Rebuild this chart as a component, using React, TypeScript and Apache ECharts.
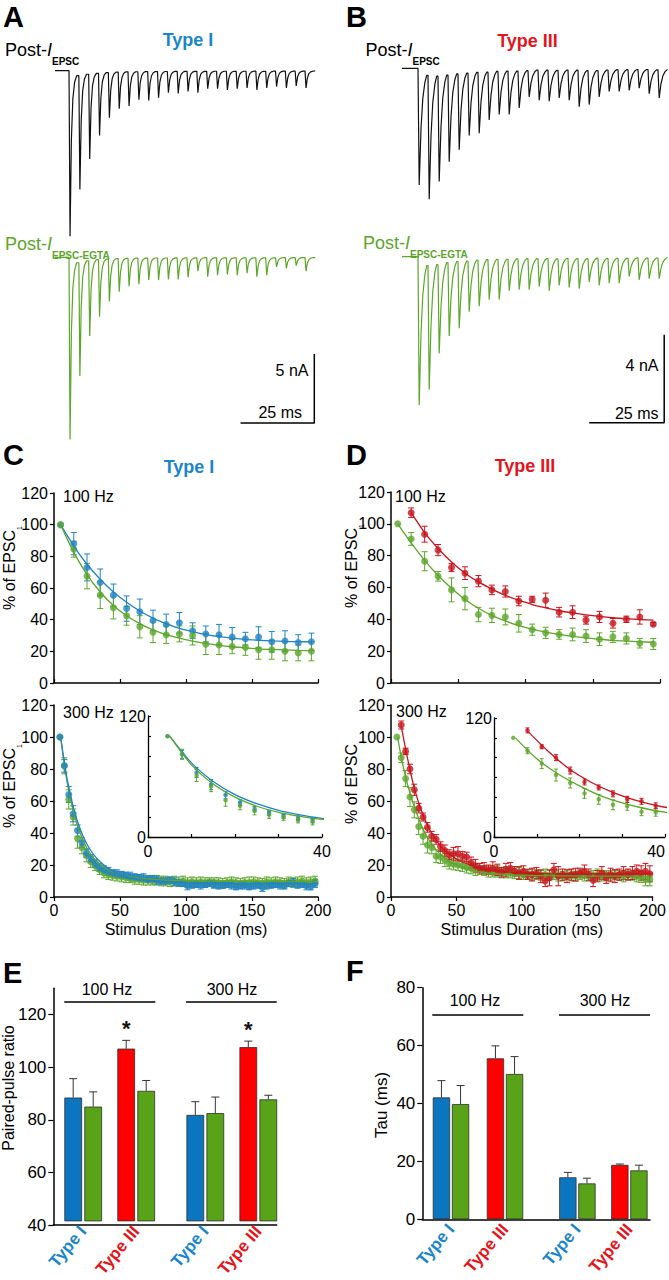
import React, { useEffect, useRef } from 'react';
import * as echarts from 'echarts';

const FONT = 'Liberation Sans, Arial, Helvetica, sans-serif';
const BLACK = '#111111';
const BLUE = '#2183c6';
const BLUE_BAR = '#0b76bf';
const BLUE_TXT = '#1a86c9';
const GREEN = '#5ca62b';
const GREEN_BAR = '#58a318';
const RED_DOT = '#c8141d';
const RED_BAR = '#ff0000';
const RED_TXT = '#e4141c';

// ---------- A / B : EPSC trains (trough amplitude of each EPSC, nA) ----------
const A_CTRL_DEPTH = [12.0, 8.6, 6.4, 4.7, 3.4, 2.75, 2.55, 2.1, 2.15, 1.95, 1.6, 1.65, 1.5, 1.6, 1.3, 1.3, 1.4, 1.3, 1.25, 1.4, 1.25, 1.15, 1.25, 1.1, 1.25];
const A_EGTA_DEPTH = [13.2, 8.6, 5.7, 4.3, 3.2, 2.5, 2.1, 1.95, 1.65, 1.65, 1.6, 1.6, 1.45, 1.0, 1.4, 1.3, 1.25, 1.3, 1.15, 1.4, 1.3, 0.7, 0.8, 0.6, 1.0];
const B_CTRL_DEPTH = [5.3, 5.95, 5.15, 4.25, 3.7, 3.05, 2.95, 2.35, 2.1, 2.1, 1.8, 1.3, 1.45, 1.5, 1.35, 1.45, 1.75, 1.65, 1.3, 1.05, 1.05, 1.0, 0.9, 1.15, 1.35];
const B_EGTA_DEPTH = [6.75, 6.05, 4.4, 3.6, 3.25, 2.5, 2.25, 1.95, 1.95, 1.55, 1.5, 1.5, 1.35, 1.55, 1.3, 1.4, 1.45, 1.15, 1.3, 1.2, 1.2, 0.9, 1.05, 1.0, 1.0];
const TRAIN_ISI = 10 / 3; // ms (300 Hz)
const A_ONSET = 4.75;
const B_ONSET = 5.33;
const A_END = 88.2;
const B_END = 88.5;
// EPSC time course (ms after stimulus, fraction of peak)
const KIN_I = { t: [0.35, 0.8, 1.3, 1.9, 2.6], f: [1, 0.42, 0.17, 0.07, 0.03] };
const KIN_III = { t: [0.4, 1.0, 1.6, 2.3, 2.9], f: [1, 0.52, 0.26, 0.12, 0.06] };
// scale bars: [time length ms, amplitude nA, corner time, corner amplitude]
const SCALE_A = [25, 5, 87.9, -12];
const SCALE_B = [25, 4, 87.4, -7.55];

// ---------- C / D : % of EPSC1 ----------
const T100_FIRST = 5;
const T100_ISI = 10;
const T300_FIRST = 4.5;
const T300_ISI = 10 / 3;

const C100_CTRL = [100, 88, 73, 63.5, 55.5, 47, 45, 39.5, 37, 38, 33, 31, 30.5, 29, 28, 29, 26, 26.5, 25.5, 26];
const C100_CTRL_SE = [0, 7, 8.5, 8.5, 7, 8, 8, 6.5, 6.5, 6.5, 5, 5, 6.5, 6, 4, 6.5, 6.5, 6.5, 5, 5.5];
const C100_EGTA = [100, 84.5, 67.5, 55.5, 47.5, 42.5, 35.5, 32, 30.5, 31, 30, 24.5, 24, 23, 22.5, 21, 21, 20, 19, 20];
const C100_EGTA_SE = [0, 5, 8, 8.5, 7, 6, 7, 6.5, 5.5, 5, 6, 6.5, 6, 4.5, 5, 6, 6, 6, 5, 6];
const C100_CTRL_FIT = [100, 86.5, 75, 65.5, 57.5, 51, 45.5, 41, 37.5, 34.5, 32.5, 30.5, 29.3, 28.3, 27.5, 27, 26.6, 26.3, 26.1, 26];
const C100_EGTA_FIT = [100, 82.5, 68.5, 57.5, 49, 42.5, 37.5, 33.5, 30.5, 28.3, 26.5, 25, 23.8, 22.9, 22.2, 21.6, 21.2, 20.9, 20.6, 20.4];

const D100_CTRL = [null, 107, 93.5, 83.5, 72.5, 69, 64, 58.5, 57.5, 51.5, 52.5, 52, 44.5, 44.5, 39.5, 41.5, 37.5, 40, 41.5, 37];
const D100_CTRL_SE = [0, 3, 5, 3.5, 2.5, 4, 3.5, 3, 3.5, 3, 2, 4.5, 3, 4, 2.5, 3.5, 3, 2, 4.5, 1];
const D100_EGTA = [100, 90.5, 76.5, 67, 58.5, 53, 43, 42.5, 41.5, 37.5, 33.5, 31.5, 30.5, 30.5, 29.5, 27.5, 29, 28, 25, 24.5];
const D100_EGTA_SE = [0, 4, 6, 3, 7.5, 7, 4.5, 4.5, 5, 5.5, 3.5, 3.5, 3, 4, 4, 4, 3.5, 3.5, 3, 3.5];
const D100_CTRL_FIT = [null, 107, 94.5, 84.5, 76, 69, 63.5, 59, 55, 52, 49.3, 47.2, 45.4, 44, 42.8, 41.8, 41, 40.4, 39.9, 39.5];
const D100_EGTA_FIT = [100, 88, 77, 67.5, 59.5, 52.5, 47, 42.5, 39, 36, 33.8, 32, 30.5, 29.3, 28.3, 27.5, 26.8, 26.3, 25.9, 25.6];

const C300_CTRL = [
  100, 82, 64, 52, 41.5, 34, 27.5, 24, 21, 18.5,
  17, 16, 15, 14.5, 14, 13.5, 13, 12.5, 12, 12,
  11, 11.5, 10.5, 10, 10, 10.5, 9.5, 9, 8.5, 7,
  7.5, 8, 7.5, 8, 8.5, 8, 7, 7.5, 8, 7.5,
  6.5, 7, 7.5, 6.5, 7, 7.5, 6, 7, 7.5, 8,
  7.5, 7, 8.5, 9, 7.5, 8, 7, 6.5, 8.5];
const C300_CTRL_SE = [
  0, 4, 5, 5, 3.5, 3, 2.5, 2.5, 2.5, 2.5,
  2.5, 2.5, 2, 2.5, 2, 2, 2.5, 2, 2, 2.5,
  2, 2, 2.5, 2, 2, 2, 2.5, 2, 2, 2.5,
  2, 2, 2.5, 2, 2, 2.5, 2, 2, 2, 2.5,
  2, 2, 2.5, 2, 2, 2, 2.5, 2, 2, 2,
  2.5, 2, 2, 2.5, 2, 2, 2.5, 2, 2.5];
const C300_EGTA = [
  100, 82, 61, 50, 36.5, 31, 26, 22, 19.5, 17,
  15, 14, 13.5, 13, 12.5, 12, 11.5, 11, 11, 10.5,
  10.5, 10, 10.5, 10, 10, 9.5, 10, 9.5, 10, 9,
  9.5, 9, 9.5, 9, 9.5, 9, 9, 8.5, 9, 9.5,
  9, 8.5, 9, 9, 9.5, 9, 8.5, 9.5, 9, 9.5,
  9, 8.5, 9.5, 9, 9.5, 10, 9, 9.5, 10];
const C300_EGTA_SE = [
  0, 5, 6, 5, 6, 4, 4, 3.5, 3, 3,
  3, 3, 3, 3, 3, 3, 2.5, 3, 3, 3,
  3, 2.5, 3, 3, 3, 3, 3, 3, 3, 3,
  3, 3, 3, 3, 2.5, 3, 3, 3, 3, 3,
  3, 3, 3, 3.5, 3, 3, 3, 3, 3, 3,
  3, 3, 3, 3, 3, 3, 3, 3, 3];
const FIT300_T = [5, 10, 15, 20, 25, 30, 35, 40, 45, 50, 55, 60, 70, 80, 90, 100, 110, 120, 130, 140, 150, 160, 170, 180, 190, 200];
const C300_CTRL_FIT = [100, 73.5, 55, 42, 33, 26.5, 22, 18.5, 16, 14, 12.8, 11.8, 10.5, 9.8, 9.3, 9, 8.8, 8.7, 8.6, 8.5, 8.5, 8.45, 8.4, 8.4, 8.4, 8.4];
const C300_EGTA_FIT = [100, 71.5, 52.5, 39.5, 30.5, 24.5, 20.5, 17.5, 15.5, 14, 13, 12.3, 11.3, 10.8, 10.4, 10.2, 10, 9.9, 9.85, 9.8, 9.8, 9.75, 9.7, 9.7, 9.7, 9.7];

const D300_CTRL = [
  null, 107.5, 91, 80, 67, 55.5, 50, 43.5, 38, 36,
  31.5, 29, 26.5, 27, 27, 25.5, 25, 21.5, 19.5, 18,
  18, 17, 18, 17, 15.5, 17, 18, 16, 15, 16,
  14, 14, 15, 13, 10, 12, 17, 13, 14, 13,
  14, 14, 15, 16, 14, 10.5, 13, 15, 12, 14,
  13, 14, 15, 14, 15, 16, 15, 16, 14.5];
const D300_CTRL_SE = [
  0, 2.5, 2, 3, 3.5, 3, 2.5, 3, 3, 3,
  3, 3.5, 3, 4, 4.5, 3, 3, 3.5, 4, 3,
  3.5, 3, 4, 3.5, 3, 4, 3.5, 3, 4, 3.5,
  3, 4, 3.5, 4, 3.5, 5, 4, 6, 3.5, 4,
  3.5, 4, 3, 4, 3.5, 4, 3.5, 4, 3.5, 4,
  4, 3.5, 4, 3.5, 4, 4, 4.5, 5, 5];
const D300_EGTA = [
  100, 87, 74, 62.5, 54.5, 44, 38, 32.5, 31, 25.5,
  25, 23, 21, 20.5, 20, 19.5, 18.5, 18, 17, 17.5,
  16.5, 16, 15.5, 16, 15, 15.5, 15, 14.5, 15, 14,
  14.5, 14, 14, 13.5, 14, 13.5, 14, 13.5, 13, 14,
  13.5, 13, 14, 13.5, 13, 13.5, 14, 13, 13.5, 13,
  14, 13.5, 13, 14, 13.5, 13, 12.5, 11, 11];
const D300_EGTA_SE = [
  0, 3, 5, 6, 5, 5, 5, 5, 4, 4,
  4, 4, 3.5, 3.5, 3.5, 3.5, 3.5, 3.5, 3.5, 3.5,
  3, 3.5, 3, 3.5, 3, 3.5, 3, 3, 3.5, 3,
  3, 3.5, 3, 3, 3.5, 3, 3, 3.5, 3, 3,
  3.5, 3, 3, 3.5, 3, 3, 3.5, 3, 3, 3.5,
  3, 3, 3.5, 3, 3, 3.5, 3.5, 4, 4];
const D300_EGTA_FIT = [100, 79, 63.5, 51.5, 41.5, 34.5, 29, 25, 22, 20, 18.3, 17, 15.5, 14.5, 14, 13.6, 13.4, 13.3, 13.2, 13.2, 13.1, 13.1, 13, 13, 13, 13];
const D300_CTRL_FIT_T = [7.8, 12.8, 17.8, 22.8, 27.8, 32.8, 37.8, 42.8, 47.8, 52.8, 57.8, 70, 80, 90, 100, 110, 120, 130, 140, 150, 160, 170, 180, 190, 200];
const D300_CTRL_FIT = [107, 86, 68, 55, 45, 37.5, 32, 28, 25, 22.5, 20.8, 17.8, 16.4, 15.6, 15.1, 14.8, 14.6, 14.5, 14.5, 14.4, 14.4, 14.4, 14.4, 14.4, 14.4];

// ---------- E / F : bars ----------
const CELL_TYPES = ['Type I', 'Type III'];
const E100_CTRL = [87.8, 106.7];
const E100_CTRL_SE = [7.3, 3.2];
const E100_EGTA = [84.3, 90.4];
const E100_EGTA_SE = [5.7, 4.0];
const E300_CTRL = [81.1, 107.3];
const E300_CTRL_SE = [5.1, 2.3];
const E300_EGTA = [81.8, 87.1];
const E300_EGTA_SE = [6.2, 1.6];
const E_SIGNIF = [0, 1];
const F100_CTRL = [42.1, 55.6];
const F100_CTRL_SE = [5.8, 4.3];
const F100_EGTA = [39.8, 50.2];
const F100_EGTA_SE = [6.4, 6.0];
const F300_CTRL = [14.5, 18.8];
const F300_CTRL_SE = [1.7, 0.3];
const F300_EGTA = [12.4, 16.9];
const F300_EGTA_SE = [1.8, 1.8];

// ---------- layout ----------
const GRIDS = [
  { left: 55, top: 56.9, width: 265.5, height: 193.2 }, // 0 A ctrl
  { left: 55, top: 243.5, width: 265.5, height: 207 }, // 1 A egta
  { left: 402, top: 57.3, width: 267, height: 165 }, // 2 B ctrl
  { left: 402, top: 245.7, width: 267, height: 187 }, // 3 B egta
  { left: 54, top: 493, width: 264, height: 190 }, // 4 C 100
  { left: 54, top: 705, width: 264, height: 192 }, // 5 C 300
  { left: 148, top: 716, width: 174, height: 121 }, // 6 C inset
  { left: 391, top: 492, width: 269, height: 191 }, // 7 D 100
  { left: 391, top: 705, width: 269, height: 192 }, // 8 D 300
  { left: 494, top: 718, width: 171, height: 119 }, // 9 D inset
  { left: 53.3, top: 988.3, width: 223.4, height: 236.7 }, // 10 E axes
  { left: 56.7, top: 988.3, width: 106, height: 236.7 }, // 11 E 100
  { left: 178.8, top: 988.3, width: 106, height: 236.7 }, // 12 E 300
  { left: 422.3, top: 987.7, width: 227.7, height: 231.6 }, // 13 F axes
  { left: 424, top: 987.7, width: 108, height: 231.6 }, // 14 F 100
  { left: 551.4, top: 987.7, width: 104, height: 231.6 }, // 15 F 300
];

function buildTrace(depths: number[], onset: number, isi: number, kin: { t: number[]; f: number[] }, tEnd: number) {
  const pts: number[][] = [[0, 0], [onset, 0]];
  let res = 0;
  depths.forEach((d, i) => {
    const ts = onset + i * isi;
    if (i > 0) pts.push([ts, -res]);
    kin.t.forEach((dt, k) => pts.push([ts + dt, -d * kin.f[k]]));
    res = d * kin.f[kin.f.length - 1];
  });
  pts.push([tEnd, -res * 0.6]);
  return pts;
}

const times = (n: number, first: number, isi: number) => Array.from({ length: n }, (_, i) => first + i * isi);

const errRender = (color: string, cap: number, lw = 1) => (_p: any, api: any) => {
  const x = api.value(0), y = api.value(1), e = api.value(2);
  if (!e || y == null || isNaN(y)) return null;
  const a = api.coord([x, y + e]);
  const b = api.coord([x, y - e]);
  const st = { stroke: color, lineWidth: lw };
  return {
    type: 'group',
    children: [
      { type: 'line', shape: { x1: a[0], y1: a[1], x2: b[0], y2: b[1] }, style: st },
      { type: 'line', shape: { x1: a[0] - cap, y1: a[1], x2: a[0] + cap, y2: a[1] }, style: st },
      { type: 'line', shape: { x1: b[0] - cap, y1: b[1], x2: b[0] + cap, y2: b[1] }, style: st },
    ],
  };
};

function pointSeries(g: number, xs: number[], ys: (number | null)[], es: number[], color: string, size: number, cap: number, maxX = Infinity) {
  const rows = xs.map((x, i) => [x, ys[i], es[i]]).filter((r) => r[1] != null && (r[0] as number) <= maxX);
  return [
    {
      type: 'custom', xAxisIndex: g, yAxisIndex: g, clip: true, silent: true,
      renderItem: errRender(color, cap), data: rows.map((r) => [r[0], r[1], r[2]]),
    },
    {
      type: 'scatter', xAxisIndex: g, yAxisIndex: g, silent: true, symbol: 'circle', symbolSize: size,
      itemStyle: { color }, data: rows.map((r) => [r[0], r[1]]),
    },
  ];
}

function fitSeries(g: number, ts: number[], vs: (number | null)[], color: string) {
  return {
    type: 'line', xAxisIndex: g, yAxisIndex: g, silent: true, showSymbol: false, symbol: 'none',
    smooth: 0.3, clip: true,
    lineStyle: { color, width: 1.3 },
    data: ts.map((t, i) => [t, vs[i]]).filter((d) => d[1] != null),
  };
}

const barErrRender = (dx: number, cap: number) => (_p: any, api: any) => {
  const c = api.value(0), v = api.value(1), e = api.value(2), sig = api.value(3);
  const base = api.coord([c, v]);
  const top = api.coord([c, v + e]);
  const x = base[0] + dx;
  const st = { stroke: '#333', lineWidth: 1 };
  const children: any[] = [
    { type: 'line', shape: { x1: x, y1: base[1], x2: x, y2: top[1] }, style: st },
    { type: 'line', shape: { x1: x - cap, y1: top[1], x2: x + cap, y2: top[1] }, style: st },
  ];
  if (sig) {
    children.push({
      type: 'text', x, y: top[1] - 12,
      style: { text: '*', fontSize: 22, fontWeight: 'bold', fontFamily: FONT, fill: '#111', align: 'center', verticalAlign: 'middle' },
    });
  }
  return { type: 'group', children };
};

function barGroup(g: number, ctrl: number[], ctrlSe: number[], egta: number[], egtaSe: number[], bw: number, gapPx: number, sig: number[]) {
  const off = (bw + gapPx) / 2;
  const border = { borderColor: '#2e2e2e', borderWidth: 0.8 };
  return [
    {
      type: 'bar', xAxisIndex: g, yAxisIndex: g, silent: true, barWidth: bw, barGap: `${(gapPx / bw) * 100}%`,
      data: ctrl.map((v, i) => ({ value: v, itemStyle: { color: i === 0 ? BLUE_BAR : RED_BAR, ...border } })),
    },
    {
      type: 'bar', xAxisIndex: g, yAxisIndex: g, silent: true, barWidth: bw,
      data: egta.map((v) => ({ value: v, itemStyle: { color: GREEN_BAR, ...border } })),
    },
    {
      type: 'custom', xAxisIndex: g, yAxisIndex: g, silent: true, renderItem: barErrRender(-off, 4),
      data: ctrl.map((v, i) => [i, v, ctrlSe[i], sig[i]]),
    },
    {
      type: 'custom', xAxisIndex: g, yAxisIndex: g, silent: true, renderItem: barErrRender(off, 4),
      data: egta.map((v, i) => [i, v, egtaSe[i], 0]),
    },
  ];
}

function buildOption() {
  const axLine = { show: true, lineStyle: { color: '#000', width: 1.5 } };
  const tickStyle = { color: '#000', width: 1.2 };
  const lab = (size: number, extra: any = {}) => ({ fontSize: size, color: '#000', fontFamily: FONT, ...extra });

  const xAxis: any[] = [];
  const yAxis: any[] = [];
  // traces
  [90, 90, 89, 89].forEach((mx, g) => xAxis.push({ gridIndex: g, type: 'value', min: 0, max: mx, show: false }));
  [[-13, 1], [-14, 1], [-7, 0.5], [-8, 0.5]].forEach((r, g) => yAxis.push({ gridIndex: g, type: 'value', min: r[0], max: r[1], show: false }));

  const mainX = (g: number, top: boolean) => ({
    gridIndex: g, type: 'value', min: 0, max: 200, interval: 50,
    axisLine: axLine, splitLine: { show: false },
    axisTick: { show: true, inside: top, length: 4, lineStyle: tickStyle },
    axisLabel: { show: !top, margin: 5, ...lab(16) },
    name: top ? '' : 'Stimulus Duration (ms)', nameLocation: 'middle', nameGap: 24,
    nameTextStyle: lab(16),
  });
  const mainY = (g: number) => ({
    gridIndex: g, type: 'value', min: 0, max: 120, interval: 20,
    axisLine: axLine, splitLine: { show: false },
    axisTick: { show: true, length: 4, lineStyle: tickStyle },
    axisLabel: { margin: 6, ...lab(16) },
  });
  const insetX = (g: number, alignRight: boolean) => ({
    gridIndex: g, type: 'value', min: 0, max: 40, interval: 10,
    axisLine: { show: true, lineStyle: { color: '#000', width: 1.3 } }, splitLine: { show: false },
    axisTick: { show: true, inside: true, length: 3, lineStyle: tickStyle },
    axisLabel: { margin: 6, formatter: (v: number) => (v === 0 || v === 40 ? String(v) : ''), alignMaxLabel: alignRight ? 'right' : undefined, ...lab(16) },
  });
  const insetY = (g: number) => ({
    gridIndex: g, type: 'value', min: 0, max: 120, interval: 20,
    axisLine: { show: true, lineStyle: { color: '#000', width: 1.3 } }, splitLine: { show: false },
    axisTick: { show: true, inside: true, length: 3, lineStyle: tickStyle },
    axisLabel: { margin: 2, formatter: (v: number) => (v === 0 || v === 120 ? String(v) : ''), ...lab(16) },
  });
  xAxis.push(mainX(4, true), mainX(5, false), insetX(6, false), mainX(7, true), mainX(8, false), insetX(9, true));
  yAxis.push(mainY(4), mainY(5), insetY(6), mainY(7), mainY(8), insetY(9));

  // E / F
  const frameX = (g: number) => ({ gridIndex: g, type: 'value', min: 0, max: 1, axisLine: axLine, axisTick: { show: false }, axisLabel: { show: false }, splitLine: { show: false } });
  const catX = (g: number) => ({
    gridIndex: g, type: 'category', data: CELL_TYPES, axisLine: { show: false }, axisTick: { show: false },
    axisLabel: {
      rotate: 50, margin: 7, fontSize: 17, fontWeight: 'bold', fontFamily: FONT, interval: 0,
      color: (v: string) => (v === 'Type I' ? BLUE_TXT : RED_TXT),
    },
  });
  const frameY = (g: number, min: number, max: number, ticks: number[], margin: number) => ({
    gridIndex: g, type: 'value', min, max, interval: 20,
    axisLine: axLine, splitLine: { show: false },
    axisTick: { show: true, length: 5, lineStyle: tickStyle, customValues: ticks },
    axisLabel: { margin, customValues: ticks, formatter: (v: number) => (ticks.indexOf(v) >= 0 ? String(v) : ''), ...lab(17) },
  });
  const hidY = (g: number, min: number, max: number) => ({ gridIndex: g, type: 'value', min, max, show: false, startValue: min });
  xAxis.push(frameX(10), catX(11), catX(12), frameX(13), catX(14), catX(15));
  yAxis.push(frameY(10, 40, 130, [40, 60, 80, 100, 120], 7), hidY(11, 40, 130), hidY(12, 40, 130), frameY(13, 0, 80, [0, 20, 40, 60, 80], 7), hidY(14, 0, 80), hidY(15, 0, 80));

  const series: any[] = [];
  const traceLine = (g: number, data: number[][], color: string) => ({
    type: 'line', xAxisIndex: g, yAxisIndex: g, silent: true, showSymbol: false, symbol: 'none',
    lineStyle: { color, width: 1.2 }, data,
  });
  series.push(traceLine(0, buildTrace(A_CTRL_DEPTH, A_ONSET, TRAIN_ISI, KIN_I, A_END), BLACK));
  series.push(traceLine(1, buildTrace(A_EGTA_DEPTH, A_ONSET, TRAIN_ISI, KIN_I, A_END), GREEN));
  series.push(traceLine(2, buildTrace(B_CTRL_DEPTH, B_ONSET, TRAIN_ISI, KIN_III, B_END), BLACK));
  series.push(traceLine(3, buildTrace(B_EGTA_DEPTH, B_ONSET, TRAIN_ISI, KIN_III, B_END), GREEN));
  const scaleBar = (g: number, s: number[]) => ({
    type: 'line', xAxisIndex: g, yAxisIndex: g, silent: true, showSymbol: false, symbol: 'none',
    lineStyle: { color: '#000', width: 1.5 },
    data: [[s[2] - s[0], s[3]], [s[2], s[3]], [s[2], s[3] + s[1]]],
  });
  series.push(scaleBar(1, SCALE_A), scaleBar(3, SCALE_B));

  const x100 = times(20, T100_FIRST, T100_ISI);
  const x300 = times(59, T300_FIRST, T300_ISI);

  // C 100 Hz
  series.push(fitSeries(4, x100, C100_CTRL_FIT, BLUE), fitSeries(4, x100, C100_EGTA_FIT, GREEN));
  series.push(...pointSeries(4, x100, C100_CTRL, C100_CTRL_SE, BLUE, 7, 3));
  series.push(...pointSeries(4, x100, C100_EGTA, C100_EGTA_SE, GREEN, 7, 3));
  // C 300 Hz
  series.push(fitSeries(5, FIT300_T, C300_EGTA_FIT, GREEN), fitSeries(5, FIT300_T, C300_CTRL_FIT, BLUE));
  series.push(...pointSeries(5, x300, C300_EGTA, C300_EGTA_SE, GREEN, 7, 3));
  series.push(...pointSeries(5, x300, C300_CTRL, C300_CTRL_SE, BLUE, 7, 3));
  // C inset
  series.push(fitSeries(6, FIT300_T, C300_CTRL_FIT, BLUE), fitSeries(6, FIT300_T, C300_EGTA_FIT, GREEN));
  series.push(...pointSeries(6, x300, C300_CTRL, C300_CTRL_SE, BLUE, 4.5, 2, 40));
  series.push(...pointSeries(6, x300, C300_EGTA, C300_EGTA_SE, GREEN, 4.5, 2, 40));
  // D 100 Hz
  series.push(fitSeries(7, x100, D100_EGTA_FIT, GREEN), fitSeries(7, x100, D100_CTRL_FIT, RED_DOT));
  series.push(...pointSeries(7, x100, D100_EGTA, D100_EGTA_SE, GREEN, 7, 3));
  series.push(...pointSeries(7, x100, D100_CTRL, D100_CTRL_SE, RED_DOT, 7, 3));
  // D 300 Hz
  series.push(fitSeries(8, FIT300_T, D300_EGTA_FIT, GREEN), fitSeries(8, D300_CTRL_FIT_T, D300_CTRL_FIT, RED_DOT));
  series.push(...pointSeries(8, x300, D300_EGTA, D300_EGTA_SE, GREEN, 7, 3));
  series.push(...pointSeries(8, x300, D300_CTRL, D300_CTRL_SE, RED_DOT, 7, 3));
  // D inset
  series.push(fitSeries(9, FIT300_T, D300_EGTA_FIT, GREEN), fitSeries(9, D300_CTRL_FIT_T, D300_CTRL_FIT, RED_DOT));
  series.push(...pointSeries(9, x300, D300_EGTA, D300_EGTA_SE, GREEN, 4.5, 2, 40));
  series.push(...pointSeries(9, x300, D300_CTRL, D300_CTRL_SE, RED_DOT, 4.5, 2, 40));

  // E / F bars
  series.push(...barGroup(11, E100_CTRL, E100_CTRL_SE, E100_EGTA, E100_EGTA_SE, 17.7, 2.3, E_SIGNIF));
  series.push(...barGroup(12, E300_CTRL, E300_CTRL_SE, E300_EGTA, E300_EGTA_SE, 17.7, 2.3, E_SIGNIF));
  series.push(...barGroup(14, F100_CTRL, F100_CTRL_SE, F100_EGTA, F100_EGTA_SE, 17.3, 1.8, [0, 0]));
  series.push(...barGroup(15, F300_CTRL, F300_CTRL_SE, F300_EGTA, F300_EGTA_SE, 17.3, 1.8, [0, 0]));

  // ---------- annotations ----------
  const T = (x: number, y: number, text: string, o: any = {}) => ({
    type: 'text', x, y, silent: true, z: 100, rotation: o.rot ?? 0,
    style: {
      text, fontFamily: FONT, fontSize: o.size ?? 16, fontWeight: o.weight ?? 'normal', fill: o.color ?? '#000',
      align: o.align ?? 'left', verticalAlign: o.va ?? 'middle', rich: o.rich,
    },
  });
  const L = (x1: number, y1: number, x2: number, y2: number) => ({
    type: 'line', silent: true, z: 100, shape: { x1, y1, x2, y2 }, style: { stroke: '#000', lineWidth: 1.6 },
  });
  const postRich = (color: string) => ({
    a: { fontSize: 18, fontFamily: FONT, fill: color, lineHeight: 22 },
    i: { fontSize: 18, fontFamily: FONT, fontStyle: 'italic', fill: color, lineHeight: 22 },
    s: { fontSize: 10, fontFamily: FONT, fontWeight: 'bold', fill: color, verticalAlign: 'bottom', lineHeight: 22, padding: [0, 0, -5, 0] },
  });
  const epscRich = {
    a: { fontSize: 16, fontFamily: FONT, fill: '#000', lineHeight: 20 },
    s: { fontSize: 7, fontFamily: FONT, fill: '#000', verticalAlign: 'bottom', lineHeight: 20, padding: [0, 0, -3, 0] },
  };
  const yName = (x: number, y: number) => T(x, y, '{a|% of EPSC}{s|1}', { rot: Math.PI / 2, align: 'center', rich: epscRich });

  const graphic: any[] = [
    T(3, 17, 'A', { size: 29, weight: 'bold' }),
    T(346, 17, 'B', { size: 29, weight: 'bold' }),
    T(3, 455, 'C', { size: 29, weight: 'bold' }),
    T(346, 455, 'D', { size: 29, weight: 'bold' }),
    T(3, 972.5, 'E', { size: 29, weight: 'bold' }),
    T(346, 971, 'F', { size: 29, weight: 'bold' }),
    T(188, 40, 'Type I', { size: 18, weight: 'bold', color: BLUE_TXT, align: 'center' }),
    T(527.5, 41, 'Type III', { size: 18, weight: 'bold', color: RED_TXT, align: 'center' }),
    T(189, 466.5, 'Type I', { size: 18, weight: 'bold', color: BLUE_TXT, align: 'center' }),
    T(525, 465.5, 'Type III', { size: 18, weight: 'bold', color: RED_TXT, align: 'center' }),
    T(5, 50, '{a|Post-}{i|I}{s|EPSC}', { rich: postRich('#000') }),
    T(5, 244, '{a|Post-}{i|I}{s|EPSC-EGTA}', { rich: postRich(GREEN) }),
    T(365.5, 50, '{a|Post-}{i|I}{s|EPSC}', { rich: postRich('#000') }),
    T(363, 243, '{a|Post-}{i|I}{s|EPSC-EGTA}', { rich: postRich(GREEN) }),
    T(308.5, 370, '5 nA', { align: 'right' }),
    T(302, 412.5, '25 ms', { align: 'right' }),
    T(658.5, 365, '4 nA', { align: 'right' }),
    T(658.5, 413, '25 ms', { align: 'right' }),
    T(63, 496, '100 Hz'),
    T(63, 712, '300 Hz'),
    T(395, 496, '100 Hz'),
    T(396, 711, '300 Hz'),
    yName(9.5, 568),
    yName(9.5, 786),
    yName(351.5, 566),
    yName(351.5, 782),
    T(8, 1088, 'Paired-pulse ratio', { rot: Math.PI / 2, align: 'center', size: 16 }),
    T(381, 1105, 'Tau (ms)', { rot: Math.PI / 2, align: 'center', size: 17 }),
    T(107, 989, '100 Hz', { align: 'center' }),
    T(232, 989, '300 Hz', { align: 'center' }),
    L(64.3, 1002, 155.3, 1002),
    L(186, 1002, 276.7, 1002),
    T(475, 1000.5, '100 Hz', { align: 'center' }),
    T(605, 1000.5, '300 Hz', { align: 'center' }),
    L(432.3, 1015, 523.3, 1015),
    L(559, 1015, 650, 1015),
  ];

  return {
    animation: false,
    backgroundColor: '#ffffff',
    textStyle: { fontFamily: FONT },
    grid: GRIDS.map((g) => ({ ...g, containLabel: false })),
    xAxis,
    yAxis,
    series,
    graphic,
  };
}

export default function App() {
  const ref = useRef<HTMLDivElement>(null);
  useEffect(() => {
    if (!ref.current) return;
    const chart = echarts.init(ref.current, null, { renderer: 'svg' });
    chart.setOption(buildOption() as any);
    return () => chart.dispose();
  }, []);
  return (
    <div
      ref={ref}
      style={{ position: 'absolute', left: 0, top: 0, width: 669, height: 1280, background: '#fff' }}
    />
  );
}
